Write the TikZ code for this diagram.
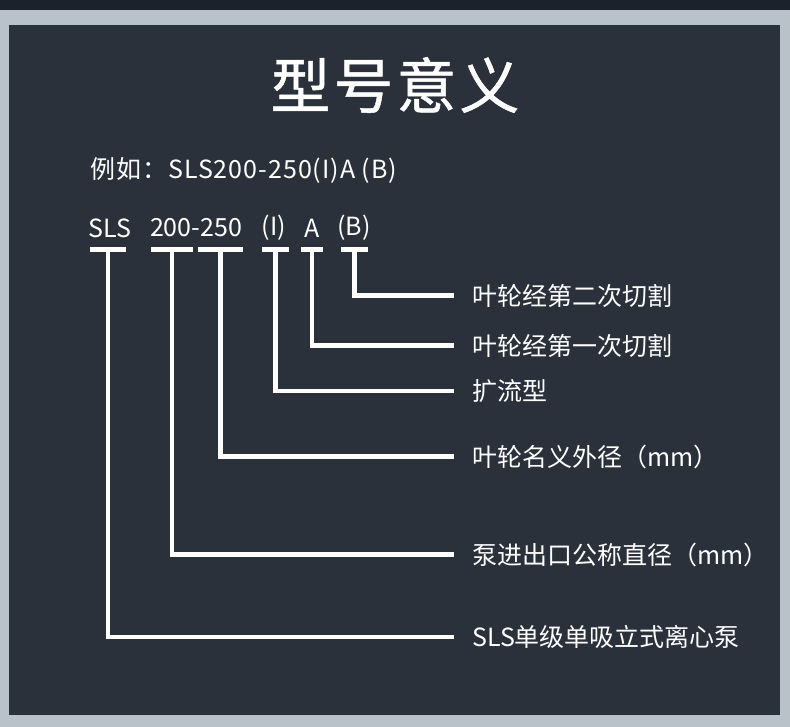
\documentclass[tikz,border=0pt]{standalone}
\usepackage{fontspec}
\newfontfamily\cjk{Noto Sans CJK SC}
\usepackage{tikz}
\usetikzlibrary{positioning}
\definecolor{panelbg}{RGB}{42,49,59}
\definecolor{framegrey}{RGB}{185,193,201}
\definecolor{topstrip}{RGB}{27,34,44}
\tikzset{
    heading/.style={
        text=white,
        inner sep=0pt,
        font=\cjk\fontsize{60}{70}\selectfont\addfontfeatures{LetterSpace=5,FakeBold=0.8}
    },
    example/.style={
        text=white,
        inner sep=0pt,
        anchor=west,
        font=\cjk\fontsize{25}{30}\selectfont\addfontfeatures{LetterSpace=4}
    },
    codepart/.style={
        text=white,
        inner sep=0pt,
        font=\cjk\fontsize{25}{30}\selectfont
    },
    bar/.style={
        fill=white,
        inner sep=0pt,
        minimum height=5pt
    },
    meaning/.style={
        text=white,
        anchor=west,
        inner xsep=18pt,
        inner ysep=0pt,
        font=\cjk\fontsize{25}{30}\selectfont
    },
    leader/.style={white, line width=4.5pt}
}

\begin{document}
\begin{tikzpicture}[x=1pt,y=-1pt]

% Frame and panel
\fill[framegrey] (0,0) rectangle (790,727);
\fill[topstrip] (0,0) rectangle (790,10);
\fill[panelbg] (9,25) rectangle (780,715);
\useasboundingbox (0,0) rectangle (790,727);

\node[heading] (title) at (395,85) {型号意义};

\node[example] (example) at (90,170) {例如：SLS200-250(I)A (B)};

% Code parts
\node[codepart] (cSLS)  at (110,228) {SLS};
\node[codepart] (cDin)  at (196,228) {200-250};
\node[codepart] (cFlow) at (274,228) {(I)};
\node[codepart] (cCutA) at (312,228) {A};
\node[codepart] (cCutB) at (354,228) {(B)};

% Bars under the parts
\node[bar, minimum width=36pt] (bSLS)  at (108,249.5)   {};
\node[bar, minimum width=42pt] (bDin)  at (172,249.5)   {};
\node[bar, minimum width=45pt] (bDimp) at (220.5,249.5) {};
\node[bar, minimum width=27pt] (bFlow) at (275.5,249.5) {};
\node[bar, minimum width=22pt] (bCutA) at (312,249.5)   {};
\node[bar, minimum width=27pt] (bCutB) at (354.5,249.5) {};

% Meanings
\node[meaning] (mCutB) at (454,295.5) {叶轮经第二次切割};
\node[meaning] (mCutA) at (454,345.5) {叶轮经第一次切割};
\node[meaning] (mFlow) at (454,391)   {扩流型};
\node[meaning] (mDimp) at (454,456.5) {叶轮名义外径（mm）};
\node[meaning] (mDin)  at (454,554.5) {泵进出口公称直径（mm）};
\node[meaning] (mSLS)  at (454,637)   {SLS单级单吸立式离心泵};

\draw[leader] (bCutB.center) |- (mCutB.west);
\draw[leader] (bCutA.center) |- (mCutA.west);
\draw[leader] (bFlow.center) |- (mFlow.west);
\draw[leader] (bDimp.center) |- (mDimp.west);
\draw[leader] (bDin.center)  |- (mDin.west);
\draw[leader] (bSLS.center)  |- (mSLS.west);

\end{tikzpicture}
\end{document}
